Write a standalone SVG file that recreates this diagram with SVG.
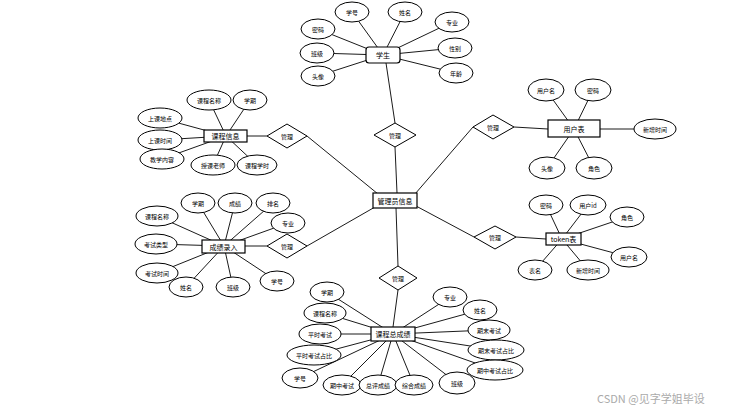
<svg xmlns="http://www.w3.org/2000/svg" width="738" height="411" viewBox="0 0 738 411">
<style>
.e{fill:#fff;stroke:#000;stroke-width:1}
.b{fill:#fff;stroke:#000;stroke-width:1.2}
.d{fill:#fff;stroke:#000;stroke-width:1}
.l{stroke:#000;stroke-width:0.9;fill:none}
text{font-family:"Noto Sans CJK SC","Liberation Sans",sans-serif;font-size:6px;text-anchor:middle;dominant-baseline:central;fill:#000}
.bt{font-size:7px}
.wm{font-size:11px;fill:#aaa;text-anchor:start}
</style>
<rect width="738" height="411" fill="#fff"/>
<g id="connectors">
<!-- student -->
<line class="l" x1="383" y1="55" x2="352" y2="12"/>
<line class="l" x1="383" y1="55" x2="405" y2="12"/>
<line class="l" x1="383" y1="55" x2="452" y2="22"/>
<line class="l" x1="383" y1="55" x2="455" y2="48"/>
<line class="l" x1="383" y1="55" x2="456" y2="73"/>
<line class="l" x1="383" y1="55" x2="318" y2="29"/>
<line class="l" x1="383" y1="55" x2="317" y2="53"/>
<line class="l" x1="383" y1="55" x2="318" y2="76"/>
<line class="l" x1="386" y1="63" x2="395" y2="123"/>
<line class="l" x1="395" y1="147" x2="397" y2="193"/>
<!-- course info -->
<line class="l" x1="226" y1="136" x2="209" y2="100"/>
<line class="l" x1="226" y1="136" x2="250" y2="100"/>
<line class="l" x1="226" y1="136" x2="160" y2="118"/>
<line class="l" x1="226" y1="136" x2="160" y2="140"/>
<line class="l" x1="226" y1="136" x2="162" y2="159"/>
<line class="l" x1="226" y1="136" x2="213" y2="165"/>
<line class="l" x1="226" y1="136" x2="257" y2="165"/>
<line class="l" x1="247" y1="136" x2="267" y2="136"/>
<line class="l" x1="307" y1="136" x2="378" y2="194"/>
<!-- user table -->
<line class="l" x1="574" y1="129" x2="546" y2="90"/>
<line class="l" x1="574" y1="129" x2="593" y2="90"/>
<line class="l" x1="574" y1="129" x2="655" y2="129"/>
<line class="l" x1="574" y1="129" x2="547" y2="168"/>
<line class="l" x1="574" y1="129" x2="594" y2="168"/>
<line class="l" x1="514" y1="127" x2="548" y2="129"/>
<line class="l" x1="415" y1="194" x2="473" y2="127"/>
<!-- token -->
<line class="l" x1="562" y1="239" x2="546" y2="205"/>
<line class="l" x1="562" y1="239" x2="588" y2="205"/>
<line class="l" x1="562" y1="239" x2="627" y2="217"/>
<line class="l" x1="562" y1="239" x2="629" y2="257"/>
<line class="l" x1="562" y1="239" x2="535" y2="270"/>
<line class="l" x1="562" y1="239" x2="588" y2="270"/>
<line class="l" x1="516" y1="237" x2="546" y2="239"/>
<line class="l" x1="416" y1="206" x2="474" y2="237"/>
<!-- score entry -->
<line class="l" x1="224" y1="246" x2="198" y2="203"/>
<line class="l" x1="224" y1="246" x2="235" y2="203"/>
<line class="l" x1="224" y1="246" x2="273" y2="203"/>
<line class="l" x1="224" y1="246" x2="288" y2="223"/>
<line class="l" x1="224" y1="246" x2="277" y2="281"/>
<line class="l" x1="224" y1="246" x2="233" y2="287"/>
<line class="l" x1="224" y1="246" x2="186" y2="287"/>
<line class="l" x1="224" y1="246" x2="157" y2="216"/>
<line class="l" x1="224" y1="246" x2="156" y2="244"/>
<line class="l" x1="224" y1="246" x2="157" y2="273"/>
<line class="l" x1="245" y1="246" x2="267" y2="246"/>
<line class="l" x1="307" y1="246" x2="375" y2="207"/>
<!-- total score -->
<line class="l" x1="396" y1="208" x2="398" y2="266"/>
<line class="l" x1="398" y1="290" x2="393" y2="327"/>
<line class="l" x1="393" y1="334" x2="327" y2="292"/>
<line class="l" x1="393" y1="334" x2="325" y2="313"/>
<line class="l" x1="393" y1="334" x2="320" y2="334"/>
<line class="l" x1="393" y1="334" x2="314" y2="355"/>
<line class="l" x1="393" y1="334" x2="300" y2="378"/>
<line class="l" x1="393" y1="334" x2="342" y2="385"/>
<line class="l" x1="393" y1="334" x2="378" y2="385"/>
<line class="l" x1="393" y1="334" x2="414" y2="385"/>
<line class="l" x1="393" y1="334" x2="457" y2="383"/>
<line class="l" x1="393" y1="334" x2="450" y2="297"/>
<line class="l" x1="393" y1="334" x2="480" y2="310"/>
<line class="l" x1="393" y1="334" x2="489" y2="330"/>
<line class="l" x1="393" y1="334" x2="496" y2="350"/>
<line class="l" x1="393" y1="334" x2="495" y2="370"/>
</g>
<g id="student">
<rect class="b" x="366" y="47" width="34" height="16" rx="3"/><text class="bt" x="383" y="55">学生</text>
<ellipse class="e" cx="352" cy="12" rx="17" ry="10"/><text x="352" y="12">学号</text>
<ellipse class="e" cx="405" cy="12" rx="17" ry="10"/><text x="405" y="12">姓名</text>
<ellipse class="e" cx="452" cy="22" rx="17" ry="10"/><text x="452" y="22">专业</text>
<ellipse class="e" cx="455" cy="48" rx="17" ry="10"/><text x="455" y="48">性别</text>
<ellipse class="e" cx="456" cy="73" rx="17" ry="10"/><text x="456" y="73">年龄</text>
<ellipse class="e" cx="318" cy="29" rx="17" ry="10"/><text x="318" y="29">密码</text>
<ellipse class="e" cx="317" cy="53" rx="17" ry="10"/><text x="317" y="53">班级</text>
<ellipse class="e" cx="318" cy="76" rx="17" ry="10"/><text x="318" y="76">头像</text>
</g>
<g id="rel-student">
<polygon class="d" points="395,123 416,135 395,147 374,135"/><text x="395" y="135">管理</text>
</g>
<g id="admin">
<rect class="b" x="373" y="193" width="44" height="15"/><text class="bt" x="395" y="200.5">管理员信息</text>
</g>
<g id="course">
<rect class="b" x="204" y="130" width="43" height="12"/><text class="bt" x="225.5" y="136">课程信息</text>
<ellipse class="e" cx="209" cy="100" rx="22" ry="10"/><text x="209" y="100">课程名称</text>
<ellipse class="e" cx="250" cy="100" rx="17" ry="10"/><text x="250" y="100">学期</text>
<ellipse class="e" cx="160" cy="118" rx="22" ry="10"/><text x="160" y="118">上课地点</text>
<ellipse class="e" cx="160" cy="140" rx="22" ry="10"/><text x="160" y="140">上课时间</text>
<ellipse class="e" cx="162" cy="159" rx="22" ry="10"/><text x="162" y="159">教学内容</text>
<ellipse class="e" cx="213" cy="165" rx="22" ry="10"/><text x="213" y="165">授课老师</text>
<ellipse class="e" cx="257" cy="165" rx="20" ry="10"/><text x="257" y="165">课程学时</text>
</g>
<g id="rel-course">
<polygon class="d" points="287,124 307,136 287,148 267,136"/><text x="287" y="136">管理</text>
</g>
<g id="user">
<rect class="b" x="548" y="120" width="52" height="17"/><text class="bt" x="574" y="128.5">用户表</text>
<ellipse class="e" cx="546" cy="90" rx="18" ry="11"/><text x="546" y="90">用户名</text>
<ellipse class="e" cx="593" cy="90" rx="18" ry="11"/><text x="593" y="90">密码</text>
<ellipse class="e" cx="655" cy="129" rx="21" ry="10"/><text x="655" y="129">新增时间</text>
<ellipse class="e" cx="547" cy="168" rx="18" ry="11"/><text x="547" y="168">头像</text>
<ellipse class="e" cx="594" cy="168" rx="18" ry="11"/><text x="594" y="168">角色</text>
</g>
<g id="rel-user">
<polygon class="d" points="493,115 514,127 493,139 473,127"/><text x="493" y="127">管理</text>
</g>
<g id="token">
<rect class="b" x="546" y="233" width="35" height="12"/><text class="bt" x="563.5" y="239">token表</text>
<ellipse class="e" cx="546" cy="205" rx="17" ry="10"/><text x="546" y="205">密码</text>
<ellipse class="e" cx="588" cy="205" rx="18" ry="10"/><text x="588" y="205">用户id</text>
<ellipse class="e" cx="627" cy="217" rx="17" ry="10"/><text x="627" y="217">角色</text>
<ellipse class="e" cx="629" cy="257" rx="18" ry="10"/><text x="629" y="257">用户名</text>
<ellipse class="e" cx="535" cy="270" rx="17" ry="10"/><text x="535" y="270">表名</text>
<ellipse class="e" cx="588" cy="270" rx="21" ry="10"/><text x="588" y="270">新增时间</text>
</g>
<g id="rel-token">
<polygon class="d" points="495,226 516,237 495,249 474,237"/><text x="495" y="237">管理</text>
</g>
<g id="score">
<rect class="b" x="202" y="240" width="43" height="13"/><text class="bt" x="223.5" y="246.5">成绩录入</text>
<ellipse class="e" cx="198" cy="203" rx="17" ry="10"/><text x="198" y="203">学期</text>
<ellipse class="e" cx="235" cy="203" rx="17" ry="10"/><text x="235" y="203">成绩</text>
<ellipse class="e" cx="273" cy="203" rx="17" ry="10"/><text x="273" y="203">排名</text>
<ellipse class="e" cx="288" cy="223" rx="17" ry="10"/><text x="288" y="223">专业</text>
<ellipse class="e" cx="277" cy="281" rx="17" ry="10"/><text x="277" y="281">学号</text>
<ellipse class="e" cx="233" cy="287" rx="17" ry="10"/><text x="233" y="287">班级</text>
<ellipse class="e" cx="186" cy="287" rx="17" ry="10"/><text x="186" y="287">姓名</text>
<ellipse class="e" cx="157" cy="216" rx="21" ry="10"/><text x="157" y="216">课程名称</text>
<ellipse class="e" cx="156" cy="244" rx="21" ry="10"/><text x="156" y="244">考试类型</text>
<ellipse class="e" cx="157" cy="273" rx="21" ry="10"/><text x="157" y="273">考试时间</text>
</g>
<g id="rel-score">
<polygon class="d" points="287,234 307,246 287,258 267,246"/><text x="287" y="246">管理</text>
</g>
<g id="rel-total">
<polygon class="d" points="398,266 417,278 398,290 379,278"/><text x="398" y="278">管理</text>
</g>
<g id="total">
<ellipse class="e" cx="327" cy="292" rx="17" ry="10"/><text x="327" y="292">学期</text>
<ellipse class="e" cx="325" cy="313" rx="21" ry="10"/><text x="325" y="313">课程名称</text>
<ellipse class="e" cx="320" cy="334" rx="21" ry="10"/><text x="320" y="334">平时考试</text>
<ellipse class="e" cx="314" cy="355" rx="27" ry="10"/><text x="314" y="355">平时考试占比</text>
<ellipse class="e" cx="300" cy="378" rx="18" ry="10"/><text x="300" y="378">学号</text>
<ellipse class="e" cx="342" cy="385" rx="19" ry="10"/><text x="342" y="385">期中考试</text>
<ellipse class="e" cx="378" cy="385" rx="19" ry="10"/><text x="378" y="385">总评成绩</text>
<ellipse class="e" cx="414" cy="385" rx="19" ry="10"/><text x="414" y="385">综合成绩</text>
<ellipse class="e" cx="457" cy="383" rx="18" ry="11"/><text x="457" y="383">班级</text>
<ellipse class="e" cx="450" cy="297" rx="17" ry="10"/><text x="450" y="297">专业</text>
<ellipse class="e" cx="480" cy="310" rx="17" ry="10"/><text x="480" y="310">姓名</text>
<ellipse class="e" cx="489" cy="330" rx="21" ry="10"/><text x="489" y="330">期末考试</text>
<ellipse class="e" cx="496" cy="350" rx="28" ry="10"/><text x="496" y="350">期末考试占比</text>
<ellipse class="e" cx="495" cy="370" rx="28" ry="10"/><text x="495" y="370">期中考试占比</text>
<rect class="b" x="371" y="327" width="44" height="14"/><text class="bt" x="393" y="334">课程总成绩</text>
</g>
<text class="wm" x="597" y="398">CSDN @见字学姐毕设</text>
</svg>
